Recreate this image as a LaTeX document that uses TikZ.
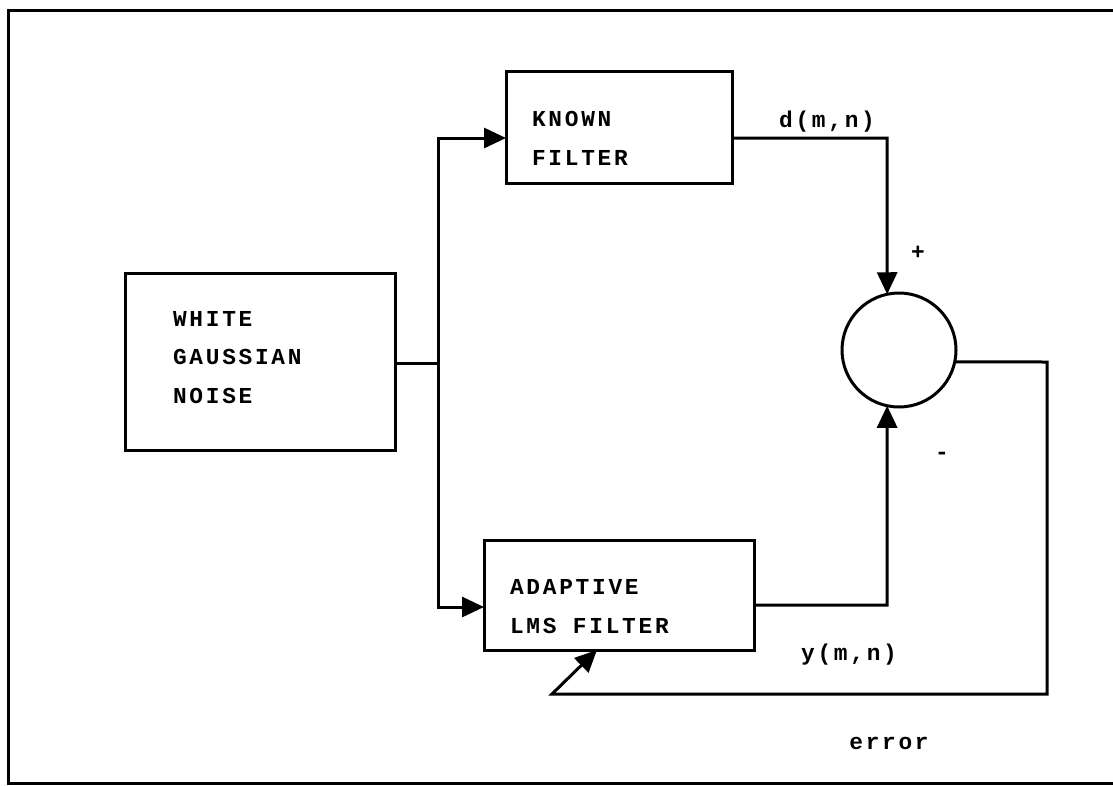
\documentclass[tikz,border=0pt]{standalone}
\usepackage{fontspec}
\newfontfamily\twfont[LetterSpace=12]{Liberation Mono}
\usetikzlibrary{arrows.meta,calc}
\tikzset{
  lw/.style={line width=3pt},
  blockbox/.style={draw, lw, rectangle, inner sep=0pt, outer sep=0pt},
  sumcircle/.style={draw, lw, circle, minimum size=114pt, inner sep=0pt, outer sep=0pt},
  lbl/.style={font=\twfont\bfseries\fontsize{22.8}{38.5}\selectfont, inner sep=0pt, outer sep=0pt, align=left},
  wire/.style={lw, line join=miter},
  arr/.style={wire, -{Triangle[length=22pt,width=20pt]}}
}
\begin{document}
\begin{tikzpicture}[x=1pt,y=-1pt]
\useasboundingbox (0,0) rectangle (1113,785);
% outer frame (right side lies outside the picture)
\draw[lw] (1113,10) -- (8,10) -- (8,783) -- (1113,783);

% blocks
\node[blockbox, minimum width=270pt, minimum height=177pt] (wgn) at (260,361.5) {};
\node[blockbox, minimum width=226pt, minimum height=112pt] (known) at (619,127) {};
\node[blockbox, minimum width=270pt, minimum height=110pt] (lms) at (619,595) {};
\node[sumcircle] (sum) at (899,350) {};

% block texts (base anchor = baseline of the last line)
\node[lbl, anchor=base west] (wgntext) at (173,403) {WHITE\\GAUSSIAN\\NOISE};
\node[lbl, anchor=base west] (knowntext) at (532,165) {KNOWN\\FILTER};
\node[lbl, anchor=base west] (lmstext) at (510,633) {ADAPTIVE\\LMS FILTER};

% signal labels
\node[lbl, anchor=base] (dlabel) at (827,127) {d(m,n)};
\node[lbl, anchor=base] (ylabel) at (849,660) {y(m,n)};
\node[lbl, anchor=base] (elabel) at (889,749) {error};
\node[lbl, anchor=base] (plus) at (918,259) {+};
\node[lbl, anchor=base] (minus) at (942,459) {-};

% routing points
\coordinate (J) at (438,363);
\coordinate (kturn) at (438,138);
\coordinate (lturn) at (438,607);
\coordinate (dturn) at (887,138);
\coordinate (yturn) at (887,605);
\coordinate (e1) at (1047,362);
\coordinate (e2) at (1047,694);
\coordinate (e3) at (552,694);
\coordinate (fbtip) at ($(lms.south)+(-22,0)$);

% connectors
\draw[wire] (wgn.east |- J) -- (J);
\draw[arr] (J) -- (kturn) -- (known.west |- kturn);
\draw[arr] (J) -- (lturn) -- (lms.west |- lturn);
\draw[arr] (known.east |- dturn) -- (dturn) -- (sum.102);
\draw[arr] (lms.east |- yturn) -- (yturn) -- (sum.258);
\draw[arr] (sum.-12) -- (e1) -- (e2) -- (e3) -- (fbtip);
\end{tikzpicture}
\end{document}
